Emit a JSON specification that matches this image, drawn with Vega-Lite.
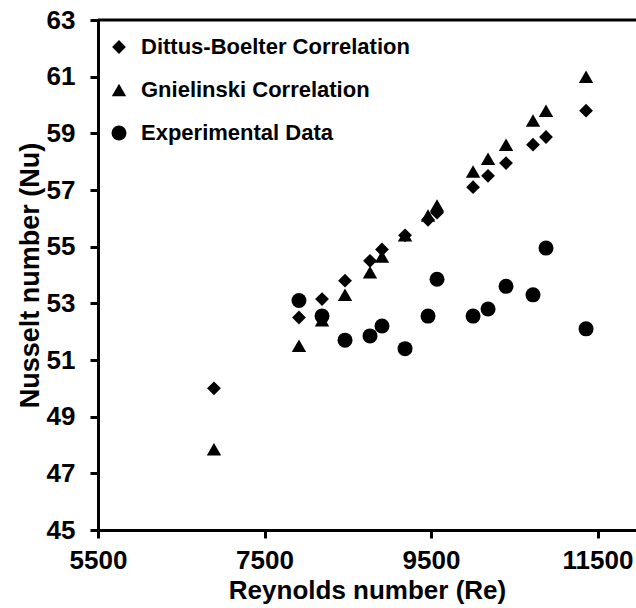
{
  "$schema": "https://vega.github.io/schema/vega-lite/v6.json",
  "width": 538,
  "height": 510,
  "autosize": {"type": "none"},
  "padding": {"left": 98, "top": 20, "right": 0, "bottom": 78},
  "background": "white",
  "config": {"view": {"stroke": null}, "font": "Liberation Sans"},
  "data": {"values": [
    {"Re": 6893, "Nu": 50.0, "series": "Dittus-Boelter Correlation"},
    {"Re": 7914, "Nu": 52.5, "series": "Dittus-Boelter Correlation"},
    {"Re": 8191, "Nu": 53.15, "series": "Dittus-Boelter Correlation"},
    {"Re": 8467, "Nu": 53.8, "series": "Dittus-Boelter Correlation"},
    {"Re": 8767, "Nu": 54.5, "series": "Dittus-Boelter Correlation"},
    {"Re": 8911, "Nu": 54.9, "series": "Dittus-Boelter Correlation"},
    {"Re": 9188, "Nu": 55.4, "series": "Dittus-Boelter Correlation"},
    {"Re": 9464, "Nu": 55.95, "series": "Dittus-Boelter Correlation"},
    {"Re": 9572, "Nu": 56.2, "series": "Dittus-Boelter Correlation"},
    {"Re": 10005, "Nu": 57.1, "series": "Dittus-Boelter Correlation"},
    {"Re": 10185, "Nu": 57.5, "series": "Dittus-Boelter Correlation"},
    {"Re": 10401, "Nu": 57.95, "series": "Dittus-Boelter Correlation"},
    {"Re": 10725, "Nu": 58.6, "series": "Dittus-Boelter Correlation"},
    {"Re": 10881, "Nu": 58.87, "series": "Dittus-Boelter Correlation"},
    {"Re": 11362, "Nu": 59.8, "series": "Dittus-Boelter Correlation"},
    {"Re": 6893, "Nu": 47.85, "series": "Gnielinski Correlation"},
    {"Re": 7914, "Nu": 51.5, "series": "Gnielinski Correlation"},
    {"Re": 8191, "Nu": 52.4, "series": "Gnielinski Correlation"},
    {"Re": 8467, "Nu": 53.3, "series": "Gnielinski Correlation"},
    {"Re": 8767, "Nu": 54.1, "series": "Gnielinski Correlation"},
    {"Re": 8911, "Nu": 54.65, "series": "Gnielinski Correlation"},
    {"Re": 9188, "Nu": 55.4, "series": "Gnielinski Correlation"},
    {"Re": 9464, "Nu": 56.1, "series": "Gnielinski Correlation"},
    {"Re": 9572, "Nu": 56.45, "series": "Gnielinski Correlation"},
    {"Re": 10005, "Nu": 57.65, "series": "Gnielinski Correlation"},
    {"Re": 10185, "Nu": 58.1, "series": "Gnielinski Correlation"},
    {"Re": 10401, "Nu": 58.6, "series": "Gnielinski Correlation"},
    {"Re": 10725, "Nu": 59.45, "series": "Gnielinski Correlation"},
    {"Re": 10881, "Nu": 59.8, "series": "Gnielinski Correlation"},
    {"Re": 11362, "Nu": 61.0, "series": "Gnielinski Correlation"},
    {"Re": 7914, "Nu": 53.1, "series": "Experimental Data"},
    {"Re": 8191, "Nu": 52.55, "series": "Experimental Data"},
    {"Re": 8467, "Nu": 51.7, "series": "Experimental Data"},
    {"Re": 8767, "Nu": 51.85, "series": "Experimental Data"},
    {"Re": 8911, "Nu": 52.2, "series": "Experimental Data"},
    {"Re": 9188, "Nu": 51.4, "series": "Experimental Data"},
    {"Re": 9464, "Nu": 52.55, "series": "Experimental Data"},
    {"Re": 9572, "Nu": 53.85, "series": "Experimental Data"},
    {"Re": 10005, "Nu": 52.55, "series": "Experimental Data"},
    {"Re": 10185, "Nu": 52.8, "series": "Experimental Data"},
    {"Re": 10401, "Nu": 53.6, "series": "Experimental Data"},
    {"Re": 10725, "Nu": 53.3, "series": "Experimental Data"},
    {"Re": 10881, "Nu": 54.95, "series": "Experimental Data"},
    {"Re": 11362, "Nu": 52.1, "series": "Experimental Data"}
  ]},
  "layer": [
    {
      "data": {"values": [{"top": 63}]},
      "mark": {"type": "rule", "color": "black", "strokeWidth": 3},
      "encoding": {"y": {"field": "top", "type": "quantitative"}}
    },
    {
      "mark": {"type": "point", "filled": true, "color": "black", "opacity": 1, "strokeWidth": 0},
      "encoding": {
        "x": {
          "field": "Re", "type": "quantitative",
          "scale": {"domain": [5500, 11962], "nice": false, "zero": false},
          "axis": {
            "values": [5500, 7500, 9500, 11500],
            "format": "d",
            "title": "Reynolds number (Re)",
            "grid": false,
            "domainColor": "black", "domainWidth": 3,
            "tickColor": "black", "tickWidth": 3, "tickSize": 8,
            "labelFontSize": 26, "labelFontWeight": "bold", "labelColor": "black",
            "labelPadding": 9, "labelFlush": false,
            "titleFontSize": 26, "titleFontWeight": "bold", "titleColor": "black",
            "titlePadding": 4
          }
        },
        "y": {
          "field": "Nu", "type": "quantitative",
          "scale": {"domain": [45, 63], "nice": false, "zero": false},
          "axis": {
            "values": [45, 47, 49, 51, 53, 55, 57, 59, 61, 63],
            "format": "d",
            "title": "Nusselt number (Nu)",
            "grid": false,
            "domainColor": "black", "domainWidth": 3,
            "tickColor": "black", "tickWidth": 3, "tickSize": 8,
            "labelFontSize": 26, "labelFontWeight": "bold", "labelColor": "black",
            "labelPadding": 15,
            "titleFontSize": 27, "titleFontWeight": "bold", "titleColor": "black",
            "titlePadding": 2
          }
        },
        "shape": {
          "field": "series", "type": "nominal",
          "scale": {
            "domain": ["Dittus-Boelter Correlation", "Gnielinski Correlation", "Experimental Data"],
            "range": ["diamond", "triangle-up", "circle"]
          },
          "legend": {
            "orient": "none", "legendX": 10, "legendY": 16,
            "title": null, "padding": 0,
            "labelFontSize": 22, "labelFontWeight": "bold", "labelColor": "black", "labelLimit": 500,
            "labelOffset": 11, "rowPadding": 21,
            "symbolFillColor": "black", "symbolStrokeColor": "black", "symbolStrokeWidth": 0, "symbolOpacity": 1
          }
        },
        "size": {
          "field": "series", "type": "nominal",
          "scale": {
            "domain": ["Dittus-Boelter Correlation", "Gnielinski Correlation", "Experimental Data"],
            "range": [190, 225, 361]
          },
          "legend": {
            "orient": "none", "legendX": 10, "legendY": 16,
            "title": null, "padding": 0,
            "labelFontSize": 22, "labelFontWeight": "bold", "labelColor": "black", "labelLimit": 500,
            "labelOffset": 11, "rowPadding": 21,
            "symbolFillColor": "black", "symbolStrokeColor": "black", "symbolStrokeWidth": 0, "symbolOpacity": 1
          }
        }
      }
    }
  ]
}
